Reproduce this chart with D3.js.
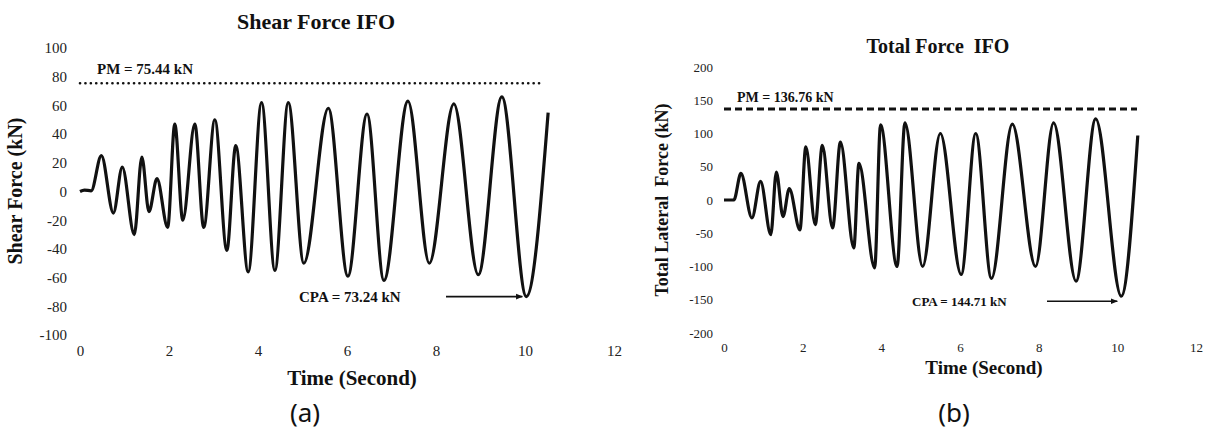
<!DOCTYPE html>
<html>
<head>
<meta charset="utf-8">
<script src="https://d3js.org/d3.v7.min.js"></script>
<style>
body { margin: 0; background: white; }
svg text { fill: #111; }
.serif { font-family: 'Liberation Serif', 'DejaVu Serif', serif; white-space: pre; }
</style>
</head>
<body>
<svg id="chart" width="1208" height="436"></svg>
<script>
// ---- data ----
// panel (a) Shear Force IFO : time (s) / shear force (kN) at the turning points
const timeA  = [0, 0.1, 0.25, 0.48, 0.75, 0.95, 1.22, 1.39, 1.55, 1.73, 1.97, 2.13, 2.31, 2.58, 2.78, 3.03, 3.3, 3.5, 3.78, 4.08, 4.38, 4.68, 5.03, 5.58, 6.02, 6.45, 6.83, 7.37, 7.85, 8.4, 8.95, 9.48, 10.03, 10.52];
const shearA = [0, 1, 0.5, 25, -15, 17, -30, 24, -14, 9, -25, 47, -20, 47, -25, 50, -41, 32, -56, 62, -55, 62, -50, 58, -59, 54, -62, 63, -50, 61, -58, 66, -73.24, 55];
// panel (b) Total Force IFO : time (s) / total lateral force (kN)
const timeB  = [0, 0.25, 0.43, 0.71, 0.93, 1.19, 1.33, 1.5, 1.66, 1.93, 2.08, 2.32, 2.5, 2.76, 2.96, 3.3, 3.43, 3.83, 3.98, 4.4, 4.6, 5.05, 5.5, 6.03, 6.4, 6.8, 7.33, 7.92, 8.38, 8.95, 9.45, 10.1, 10.52];
const totalB = [0, 0, 40, -27, 28, -52, 42, -25, 17, -45, 80, -37, 82, -42, 87, -72, 55, -102, 113, -100, 116, -100, 100, -112, 100, -118, 114, -100, 116, -122, 122, -144.71, 97];

const xTicks  = [0, 2, 4, 6, 8, 10, 12];
const yTicksA = [-100, -80, -60, -40, -20, 0, 20, 40, 60, 80, 100];
const yTicksB = [-200, -150, -100, -50, 0, 50, 100, 150, 200];

const pmA = 75.44, cpaA = -73.24, cpaTimeA = 10.03;
const pmB = 136.76, cpaB = -144.71, cpaTimeB = 10.1;

const svg = d3.select("#chart");

svg.append("defs").append("marker")
  .attr("id", "arrow")
  .attr("viewBox", "0 0 10 10")
  .attr("refX", 9).attr("refY", 5)
  .attr("markerWidth", 7).attr("markerHeight", 7)
  .attr("markerUnits", "userSpaceOnUse")
  .attr("orient", "auto")
  .append("path").attr("d", "M0,1 L10,5 L0,9 z").attr("fill", "#111");

function panel(p) {
  const x = d3.scaleLinear().domain([0, 12]).range(p.xr);
  const y = d3.scaleLinear().domain(p.yd).range(p.yr);
  const g = svg.append("g");

  // y axis labels only
  const ya = g.append("g")
    .attr("transform", "translate(" + p.xr[0] + ",0)")
    .call(d3.axisLeft(y).tickValues(p.yTicks).tickFormat(d => String(d)).tickSize(0).tickPadding(p.yPad));
  ya.select(".domain").remove();
  ya.selectAll("text")
    .style("font-family", "'Liberation Serif', serif")
    .style("font-size", p.tickFont + "px")
    .style("fill", "#222");

  // x axis labels only
  const xa = g.append("g")
    .attr("transform", "translate(0," + p.xAxisY + ")")
    .call(d3.axisBottom(x).tickValues(xTicks).tickFormat(d => String(d)).tickSize(0).tickPadding(0));
  xa.select(".domain").remove();
  xa.selectAll("text")
    .style("font-family", "'Liberation Serif', serif")
    .style("font-size", p.tickFont + "px")
    .style("fill", "#222");

  // PM line
  g.append("line")
    .attr("x1", x(0)).attr("x2", x(p.pmEnd))
    .attr("y1", y(p.pm)).attr("y2", y(p.pm))
    .attr("stroke", "#111")
    .attr("stroke-width", p.pmWidth)
    .attr("stroke-dasharray", p.pmDash)
    .attr("stroke-linecap", p.pmCap);

  g.append("text").attr("class", "serif")
    .attr("x", x(0) + p.pmLabelDx).attr("y", y(p.pm) - p.pmLabelDy)
    .style("font-size", p.pmFont + "px").style("font-weight", "bold")
    .text("PM = " + p.pm + " kN");

  // series
  const pts = p.t.map((t, i) => [t, p.v[i]]);
  g.append("path")
    .datum(pts)
    .attr("fill", "none")
    .attr("stroke", "#111")
    .attr("stroke-width", 3.2)
    .attr("stroke-linejoin", "round")
    .attr("d", d3.line().x(d => x(d[0])).y(d => y(d[1])).curve(d3.curveMonotoneX));

  // CPA annotation
  const cy = y(p.cpa) + p.cpaDy;
  g.append("text").attr("class", "serif")
    .attr("x", p.cpaTextX).attr("y", cy).attr("dy", "0.35em")
    .style("font-size", p.cpaFont + "px").style("font-weight", "bold")
    .text("CPA = " + Math.abs(p.cpa) + " kN");
  g.append("line")
    .attr("x1", p.arrowX).attr("x2", x(p.cpaTime) - 4)
    .attr("y1", cy).attr("y2", cy)
    .attr("stroke", "#111").attr("stroke-width", 1.6)
    .attr("marker-end", "url(#arrow)");

  // titles
  g.append("text").attr("class", "serif")
    .attr("x", p.titleX).attr("y", p.titleY)
    .attr("text-anchor", "middle")
    .style("font-size", p.titleFont + "px").style("font-weight", "bold")
    .text(p.title);

  g.append("text").attr("class", "serif")
    .attr("x", p.xTitleX).attr("y", p.xTitleY)
    .attr("text-anchor", "middle")
    .style("font-size", p.axisFont + "px").style("font-weight", "bold")
    .text("Time (Second)");

  g.append("text").attr("class", "serif")
    .attr("transform", "translate(" + p.yTitleX + "," + p.yTitleY + ") rotate(-90)")
    .attr("text-anchor", "middle")
    .style("font-size", p.yAxisFont + "px").style("font-weight", "bold")
    .text(p.yTitle);

  g.append("text")
    .attr("x", p.capX).attr("y", 422)
    .attr("text-anchor", "middle")
    .style("font-family", "'Noto Sans', sans-serif")
    .style("font-size", "26px")
    .text(p.cap);
}

panel({
  t: timeA, v: shearA,
  xr: [80, 614], yd: [-100, 100], yr: [335, 48],
  yTicks: yTicksA, yPad: 13, tickFont: 15, xAxisY: 345,
  pm: pmA, pmEnd: 10.4, pmWidth: 2.6, pmDash: "0.1,5.3", pmCap: "round",
  pmLabelDx: 17, pmLabelDy: 9, pmFont: 15,
  cpa: cpaA, cpaTime: cpaTimeA, cpaDy: 0, cpaTextX: 299, cpaFont: 15, arrowX: 446,
  title: "Shear Force IFO", titleX: 316, titleY: 29, titleFont: 22,
  xTitleX: 352, xTitleY: 385, axisFont: 21,
  yTitle: "Shear Force (kN)", yTitleX: 22, yTitleY: 191, yAxisFont: 20,
  cap: "(a)", capX: 305
});

panel({
  t: timeB, v: totalB,
  xr: [724, 1196], yd: [-200, 200], yr: [333, 67],
  yTicks: yTicksB, yPad: 11, tickFont: 13, xAxisY: 343,
  pm: pmB, pmEnd: 10.5, pmWidth: 3, pmDash: "7,4", pmCap: "butt",
  pmLabelDx: 13, pmLabelDy: 7, pmFont: 14,
  cpa: cpaB, cpaTime: cpaTimeB, cpaDy: 5, cpaTextX: 912, cpaFont: 13, arrowX: 1047,
  title: "Total Force  IFO", titleX: 938, titleY: 53, titleFont: 20,
  xTitleX: 984, xTitleY: 374, axisFont: 19,
  yTitle: "Total Lateral  Force (kN)", yTitleX: 668, yTitleY: 200, yAxisFont: 18,
  cap: "(b)", capX: 954
});
</script>
</body>
</html>
